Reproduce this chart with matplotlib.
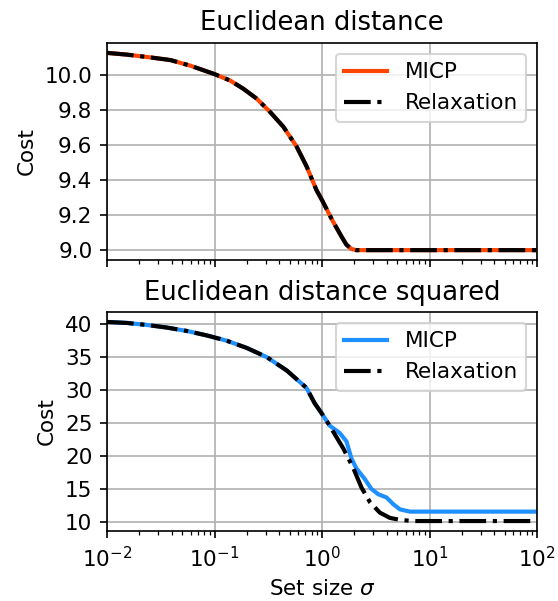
import numpy as np
import matplotlib
matplotlib.use("Agg")
import matplotlib.pyplot as plt
from matplotlib.ticker import MultipleLocator

plt.rcParams["font.size"] = 10.3
plt.rcParams["axes.titlesize"] = 12.4

# Cost vs. set size, Euclidean distance
sigma_dist = [0.01, 0.0153, 0.0254, 0.0389, 0.0596, 0.1, 0.14, 0.186, 0.247,
              0.328, 0.437, 0.579, 0.718, 0.887, 1.0, 1.265, 1.514, 1.683,
              1.871, 2.084, 100]
cost_dist_micp = [10.124, 10.114, 10.098, 10.083, 10.051, 10.003, 9.966,
                  9.919, 9.863, 9.788, 9.703, 9.591, 9.478, 9.343, 9.285,
                  9.163, 9.079, 9.032, 9.007, 9.0, 9.0]
cost_dist_relax = list(cost_dist_micp)

# Cost vs. set size, Euclidean distance squared
sigma_common = [0.01, 0.0153, 0.0234, 0.036, 0.0553, 0.085, 0.13, 0.2,
                0.307, 0.47, 0.716, 0.855, 1.0, 1.18]
cost_common = [40.35, 40.2, 39.9, 39.5, 38.98, 38.3, 37.5, 36.4, 35.0,
               32.98, 30.35, 28.0, 26.4, 24.6]

sigma_sq_micp = sigma_common + [1.46, 1.69, 1.88, 2.09, 2.5, 2.88, 3.33,
                                3.98, 4.59, 5.3, 6.56, 100]
cost_sq_micp = cost_common + [23.5, 22.2, 19.6, 18.1, 16.5, 15.0, 14.2,
                              13.7, 12.7, 11.9, 11.55, 11.55]

sigma_sq_relax = sigma_common + [1.27, 1.57, 1.95, 2.33, 2.79, 3.45, 4.28,
                                 5.3, 7.05, 100]
cost_sq_relax = cost_common + [23.7, 21.2, 18.2, 15.2, 13.0, 11.4, 10.6,
                               10.3, 10.12, 10.12]

W, H = 558, 601
fig = plt.figure(figsize=(W / 150, H / 150), dpi=150)

left, right = 107 / W, 537 / W
ax1 = fig.add_axes([left, 1 - 260 / H, right - left, (260 - 43) / H])
ax2 = fig.add_axes([left, 1 - 531 / H, right - left, (531 - 312) / H],
                   sharex=ax1)

ax1.plot(sigma_dist, cost_dist_micp, color="orangered", lw=2, label="MICP")
ax1.plot(sigma_dist, cost_dist_relax, color="black", lw=2, ls="-.",
         label="Relaxation")
ax1.set_title("Euclidean distance")
ax1.set_ylabel("Cost")
ax1.yaxis.set_major_locator(MultipleLocator(0.2))
ax1.grid(True)
ax1.legend(loc="upper right")
plt.setp(ax1.get_xticklabels(), visible=False)

ax2.plot(sigma_sq_micp, cost_sq_micp, color="dodgerblue", lw=2, label="MICP")
ax2.plot(sigma_sq_relax, cost_sq_relax, color="black", lw=2, ls="-.",
         label="Relaxation")
ax2.set_title("Euclidean distance squared")
ax2.set_ylabel("Cost")
ax2.set_xlabel(r"Set size $\sigma$")
ax2.set_xscale("log")
ax2.set_xlim(1e-2, 1e2)
ax2.yaxis.set_major_locator(MultipleLocator(5))
ax2.grid(True)
ax2.legend(loc="upper right")

fig.savefig("out.png", dpi=150)
